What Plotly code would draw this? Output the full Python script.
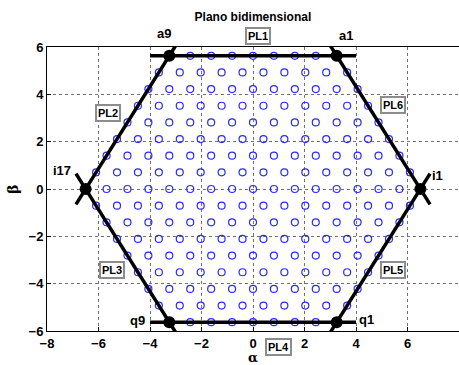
import numpy as np
import plotly.graph_objects as go

# Hexagon of radius R, lattice with N steps from centre to vertex
R = 6.5
N = 8

vertex_names = ["i1", "a1", "a9", "i17", "q9", "q1"]
vertex_angles = [0, 60, 120, 180, 240, 300]
side_names = ["PL6", "PL1", "PL2", "PL3", "PL4", "PL5"]

# label positions (data units)
vertex_label_x = [7.15, 3.6, -3.45, -7.4, -4.5, 4.4]
vertex_label_y = [0.55, 6.5, 6.55, 0.8, -5.55, -5.5]
side_label_x = [5.44, 0.2, -5.63, -5.48, 1.0, 5.44]
side_label_y = [3.54, 6.46, 3.2, -3.42, -6.67, -3.42]

Y_MIN, Y_MAX = -6, 6


def to_paper(y):
    return (y - Y_MIN) / (Y_MAX - Y_MIN)


vx = [R * np.cos(np.radians(a)) for a in vertex_angles]
vy = [R * np.sin(np.radians(a)) for a in vertex_angles]

# triangular lattice of switching states inside the hexagon
d = R / N
h = d * np.sqrt(3) / 2
px, py = [], []
for j in range(-N, N + 1):
    n = 2 * N + 1 - abs(j)
    for k in range(n):
        px.append(-R + abs(j) * d / 2 + k * d)
        py.append(j * h)

fig = go.Figure()

fig.add_trace(go.Scatter(
    x=px, y=py, mode="markers",
    marker=dict(symbol="circle-open", size=7, color="#2a2aff", line=dict(width=1.2)),
    hoverinfo="skip", showlegend=False))

# hexagon sides, slightly extended past each vertex
ext = 0.75
for i in range(6):
    x0, y0 = vx[i], vy[i]
    x1, y1 = vx[(i + 1) % 6], vy[(i + 1) % 6]
    L = np.hypot(x1 - x0, y1 - y0)
    ux, uy = (x1 - x0) / L, (y1 - y0) / L
    fig.add_trace(go.Scatter(
        x=[x0 - ext * ux, x1 + ext * ux], y=[y0 - ext * uy, y1 + ext * uy],
        mode="lines", line=dict(color="black", width=3.5),
        hoverinfo="skip", showlegend=False))

fig.add_trace(go.Scatter(
    x=vx, y=vy, mode="markers",
    marker=dict(symbol="circle", size=12, color="black"),
    hoverinfo="skip", showlegend=False))

for name, x, y in zip(vertex_names, vertex_label_x, vertex_label_y):
    fig.add_annotation(x=x, y=to_paper(y), yref="paper", xanchor="center", yanchor="middle",
                       text="<b>%s</b>" % name, showarrow=False,
                       font=dict(family="Liberation Sans, Arial", size=13, color="black"))

for name, x, y in zip(side_names, side_label_x, side_label_y):
    fig.add_annotation(x=x, y=to_paper(y), yref="paper", xanchor="center", yanchor="middle",
                       text="<b>%s</b>" % name, showarrow=False,
                       font=dict(family="Liberation Sans, Arial", size=11, color="black"),
                       bgcolor="white", bordercolor="#8c8c8c", borderwidth=2, borderpad=1)

axis_common = dict(
    showline=True, linecolor="black", linewidth=1, mirror=True,
    showgrid=True, gridcolor="#707070", griddash="dot", gridwidth=1,
    zeroline=False, ticks="inside", ticklen=4, tickcolor="black",
    tickfont=dict(family="Liberation Sans, Arial", size=13, color="black", weight="bold"),
)

fig.update_layout(
    width=459, height=365,
    margin=dict(l=47, r=0, t=47, b=34),
    plot_bgcolor="white", paper_bgcolor="white",
    title=dict(text="<b>Plano bidimensional</b>", x=0.551, xanchor="center", y=0.955, yanchor="middle",
               font=dict(family="Liberation Sans Narrow, Arial Narrow, Liberation Sans", size=12, color="black")),
    xaxis=dict(range=[-8, 8], tickvals=[-8, -6, -4, -2, 0, 2, 4, 6, 8],
               title=dict(text="<b>α</b>", standoff=5,
                          font=dict(family="DejaVu Serif, Liberation Serif", size=13, color="black")),
               **axis_common),
    yaxis=dict(range=[Y_MIN, Y_MAX], tickvals=[-6, -4, -2, 0, 2, 4, 6],
               title=dict(text="<b>β</b>", standoff=6,
                          font=dict(family="DejaVu Serif, Liberation Serif", size=14, color="black")),
               **axis_common),
)

fig.write_html("out.html")
